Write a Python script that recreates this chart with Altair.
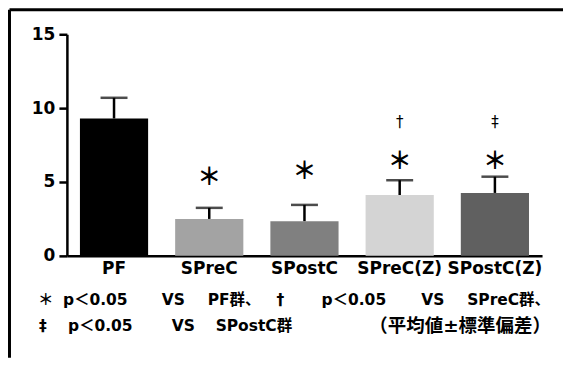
import altair as alt
import pandas as pd

categories = ["PF", "SPreC", "SPostC", "SPreC(Z)", "SPostC(Z)"]
means = [9.3, 2.5, 2.35, 4.12, 4.26]
sds = [1.4, 0.75, 1.1, 1.0, 1.1]
colors = ["#000000", "#a3a3a3", "#808080", "#d4d4d4", "#606060"]

star_cats = ["SPreC", "SPostC", "SPreC(Z)", "SPostC(Z)"]
star_y = [5.3, 5.7, 6.35, 6.35]
mark_cats = ["SPreC(Z)", "SPostC(Z)"]
mark_txt = ["†", "‡"]
mark_y = [9.05, 9.05]

legend1 = ["＊", "p＜0.05", "VS", "PF群、", "†", "p＜0.05", "VS", "SPreC群、"]
legend2 = ["‡", "p＜0.05", "VS", "SPostC群", "（平均値±標準偏差）"]
# left edges in page pixels and font sizes (layout)
legend1_x = [38, 63, 162, 208, 277, 322, 422, 468]
legend2_x = [39, 68, 172, 216, 370]
legend1_fs = [15.5] * 8
legend2_fs = [15.5, 15.5, 15.5, 15.5, 18.5]

FONT = "DejaVu Sans, Noto Sans CJK JP"
M = 8  # page margin
W, H = 556, 350

df = pd.DataFrame({"cat": categories, "mean": means, "sd": sds, "color": colors})
df["top"] = df["mean"] + df["sd"]
stars = pd.DataFrame({"cat": star_cats, "y": star_y})
marks = pd.DataFrame({"cat": mark_cats, "t": mark_txt, "y": mark_y})

xs = alt.Scale(domain=categories, range=[67 - M, 543 - M], paddingInner=0.284, paddingOuter=0.137)
ys = alt.Scale(domain=[0, 15], range=[256 - M, 34 - M], nice=False)
xenc = alt.X("cat:N", scale=xs, sort=categories)

x = alt.X("cat:N", scale=xs, sort=categories, title=None,
          axis=alt.Axis(labelAngle=0, labelFontSize=17, labelFontWeight="bold",
                        labelFont=FONT, labelColor="black", ticks=False,
                        domainColor="black", domainWidth=2.5, labelPadding=5,
                        offset=-(H - (256 - M))))
y = alt.Y("mean:Q", scale=ys, title=None,
          axis=alt.Axis(values=[0, 5, 10, 15], labelFontSize=17, labelFontWeight="bold",
                        labelFont=FONT, labelColor="black", tickColor="black",
                        tickWidth=2.5, tickSize=8, domainColor="black", domainWidth=2.5,
                        grid=False, labelPadding=4, offset=-(67 - M)))

bars = alt.Chart(df).mark_bar().encode(
    x=x, y=y, y2=alt.datum(0),
    color=alt.Color("color:N", scale=None))

err = alt.Chart(df).mark_rule(color="black", strokeWidth=2.5).encode(
    x=xenc, y=alt.Y("mean:Q", scale=ys), y2="top:Q")
cap = alt.Chart(df).mark_tick(color="black", thickness=2.5, size=27, orient="horizontal").encode(
    x=xenc, y=alt.Y("top:Q", scale=ys))

star = alt.Chart(stars).mark_text(text="＊", font="Noto Sans CJK JP", fontSize=24, fontWeight="bold",
                                  color="black", baseline="middle").encode(
    x=xenc, y=alt.Y("y:Q", scale=ys))
dag = alt.Chart(marks).mark_text(font=FONT, fontSize=15, color="black", baseline="middle").encode(
    x=xenc, y=alt.Y("y:Q", scale=ys), text="t:N")

leg_layers = []
for texts, xpos, sizes, ypage in [(legend1, legend1_x, legend1_fs, 300),
                                  (legend2, legend2_x, legend2_fs, 326)]:
    for t, xp, fs in zip(texts, xpos, sizes):
        leg_layers.append(
            alt.Chart(df.head(1)).mark_text(
                text=t, font=FONT, fontSize=fs, fontWeight="bold", color="black",
                align="left", baseline="middle"
            ).encode(x=alt.value(xp - M), y=alt.value(ypage - M))
        )

# frame: top and left edges only
frame_top = alt.Chart(df.head(1)).mark_rule(color="black", strokeWidth=3).encode(
    x=alt.value(1.5), x2=alt.value(W), y=alt.value(1.5))
frame_left = alt.Chart(df.head(1)).mark_rule(color="black", strokeWidth=3).encode(
    x=alt.value(1.5), y=alt.value(1.5), y2=alt.value(H))

chart = alt.layer(bars, err, cap, star, dag, *leg_layers, frame_top, frame_left).properties(
    width=W, height=H,
    autosize=alt.AutoSizeParams(type="none"),
    padding=0,
    background="white",
).configure_view(stroke=None)

chart.save("out.html", embed_options={"renderer": "svg", "actions": False})
